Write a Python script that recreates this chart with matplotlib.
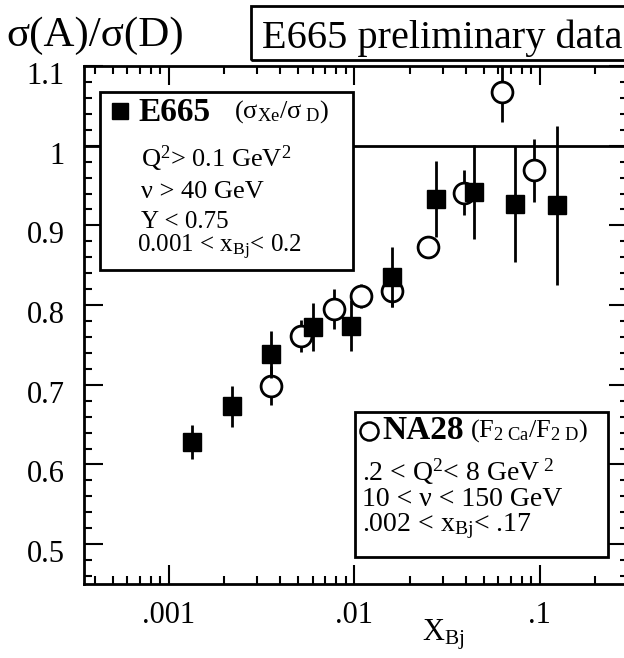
import matplotlib
matplotlib.use('Agg')
import matplotlib.pyplot as plt
from matplotlib.ticker import FixedLocator, FixedFormatter, MultipleLocator, LogLocator, NullFormatter
from matplotlib.patches import Rectangle
from matplotlib.transforms import ScaledTranslation

plt.rcParams['font.family'] = ['Liberation Serif', 'DejaVu Serif']
plt.rcParams['mathtext.fontset'] = 'custom'
plt.rcParams['mathtext.rm'] = 'Liberation Serif'
plt.rcParams['mathtext.it'] = 'Liberation Serif:italic'
plt.rcParams['mathtext.bf'] = 'Liberation Serif:bold'

# E665 (filled squares), sigma_Xe / sigma_D
e665_x = [0.00133, 0.00219, 0.00356, 0.0060, 0.0096, 0.0160, 0.0277, 0.0446, 0.0741, 0.125]
e665_y = [0.628, 0.673, 0.738, 0.772, 0.774, 0.835, 0.933, 0.942, 0.927, 0.925]
e665_err = [0.021, 0.026, 0.029, 0.030, 0.032, 0.038, 0.048, 0.059, 0.073, 0.100]

# NA28 (open circles), F2 Ca / F2 D
na28_x = [0.00356, 0.00518, 0.0078, 0.0109, 0.0160, 0.0251, 0.0394, 0.0624, 0.0929]
na28_y = [0.699, 0.761, 0.795, 0.811, 0.818, 0.873, 0.941, 1.067, 0.969]
na28_err = [0.025, 0.020, 0.025, 0.015, 0.020, 0.010, 0.028, 0.037, 0.040]

x_ticks = [0.001, 0.01, 0.1]
x_labels = ['.001', '.01', '.1']
y_ticks = [0.5, 0.6, 0.7, 0.8, 0.9, 1.0, 1.1]
y_labels = ['0.5', '0.6', '0.7', '0.8', '0.9', '1', '1.1']

W, H = 624, 658


def fx(px):
    return px / W


def fy(py):
    return 1 - py / H


fig = plt.figure(figsize=(W / 100, H / 100), dpi=100)
ax = fig.add_axes([fx(84), fy(584), fx(628) - fx(84), fy(66) - fy(584)])

# reference line at ratio 1
ax.axhline(1.0, color='black', lw=2, zorder=1)

# data
ax.errorbar(na28_x, na28_y, yerr=na28_err, fmt='o', ms=15, mfc='white', mec='black',
            mew=2, ecolor='black', elinewidth=2, capsize=0, zorder=3)
ax.errorbar(e665_x, e665_y, yerr=e665_err, fmt='s', ms=13, mfc='black', mec='black',
            ecolor='black', elinewidth=2, capsize=0, zorder=4)

ax.set_xscale('log')
ax.set_xlim(3.5e-4, 0.30)
ax.set_ylim(0.45, 1.10)

ax.xaxis.set_major_locator(FixedLocator(x_ticks))
ax.xaxis.set_major_formatter(FixedFormatter(x_labels))
ax.xaxis.set_minor_locator(LogLocator(base=10, subs=range(2, 10)))
ax.xaxis.set_minor_formatter(NullFormatter())
ax.yaxis.set_major_locator(FixedLocator(y_ticks))
ax.yaxis.set_major_formatter(FixedFormatter(y_labels))
ax.yaxis.set_minor_locator(MultipleLocator(0.02))

ax.tick_params(which='both', direction='in', top=True, right=True, width=1.5, labelsize=22)
ax.tick_params(which='major', length=14)
ax.tick_params(which='minor', length=6)
ax.tick_params(axis='x', which='major', pad=12)
ax.tick_params(axis='y', which='major', pad=14)
# y labels sit a little below their ticks in the original
shift = ScaledTranslation(0, -7 / 100, fig.dpi_scale_trans)
for lab in ax.get_yticklabels():
    lab.set_transform(lab.get_transform() + shift)
for sp in ax.spines.values():
    sp.set_linewidth(2)

tf = fig.transFigure

# axis labels
fig.text(fx(6), fy(46), 'σ(A)/σ(D)', fontsize=31, va='baseline', ha='left')
fig.text(fx(422), fy(640), r'X$_{\mathrm{Bj}}$', fontsize=22, va='baseline', ha='left')

# title box
fig.patches.append(Rectangle((fx(251), fy(60)), fx(640) - fx(251), fy(6) - fy(60),
                             transform=tf, fill=False, lw=2, ec='black'))
fig.text(fx(262), fy(48), 'E665 preliminary data', fontsize=29, va='baseline', ha='left')

# E665 box
ax.add_patch(Rectangle((fx(100), fy(270)), fx(353) - fx(100), fy(92) - fy(270),
                       transform=tf, fc='white', ec='black', lw=2, zorder=6, clip_on=False))
ax.plot([fx(120)], [fy(111)], 's', ms=12, color='black', transform=tf, clip_on=False, zorder=7)
ax.text(fx(138), fy(121), 'E665', fontsize=24, fontweight='bold', transform=tf, zorder=7)
ax.text(fx(234), fy(118), r'(σ$_{\mathrm{Xe}}$/σ$_{\mathrm{\ D}}$)', fontsize=19, transform=tf, zorder=7)
ax.text(fx(141), fy(167), r'Q$^{2}$> 0.1 GeV$^{2}$', fontsize=19, transform=tf, zorder=7)
ax.text(fx(141), fy(198), 'ν > 40 GeV', fontsize=19, transform=tf, zorder=7)
ax.text(fx(141), fy(228), 'Y < 0.75', fontsize=18, transform=tf, zorder=7)
ax.text(fx(137), fy(252), r'0.001 < x$_{\mathrm{Bj}}$< 0.2', fontsize=18, transform=tf, zorder=7)

# NA28 box
ax.add_patch(Rectangle((fx(355), fy(557)), fx(608) - fx(355), fy(412) - fy(557),
                       transform=tf, fc='white', ec='black', lw=2, zorder=6, clip_on=False))
ax.plot([fx(369)], [fy(431)], 'o', ms=13, mfc='white', mec='black', mew=1.8,
        transform=tf, clip_on=False, zorder=7)
ax.text(fx(382), fy(439), 'NA28', fontsize=24, fontweight='bold', transform=tf, zorder=7)
ax.text(fx(470), fy(437), r'(F$_{\mathrm{2\ Ca}}$/F$_{\mathrm{2\ D}}$)', fontsize=19, transform=tf, zorder=7)
ax.text(fx(362), fy(481), r'.2 < Q$^{2}$< 8 GeV$^{\ 2}$', fontsize=20, transform=tf, zorder=7)
ax.text(fx(362), fy(506), '10 < ν < 150 GeV', fontsize=20, transform=tf, zorder=7)
ax.text(fx(362), fy(531), r'.002 < x$_{\mathrm{Bj}}$< .17', fontsize=20, transform=tf, zorder=7)

fig.savefig('out.png', dpi=100)
